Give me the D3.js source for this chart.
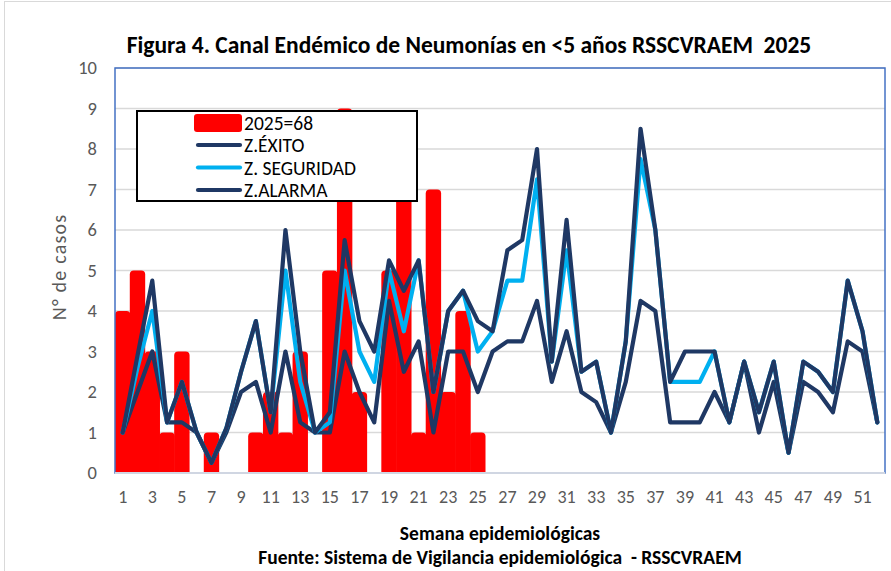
<!DOCTYPE html>
<html>
<head>
<meta charset="utf-8">
<script src="https://cdn.jsdelivr.net/npm/d3@7"></script>
<style>
  body { margin: 0; background: #fff; }
  text { font-family: Carlito, "Liberation Sans Narrow", "DejaVu Sans Condensed", sans-serif; }
</style>
</head>
<body>
<div class="canvas"></div>
<script>
// settings
const svgWidth = 891
const svgHeight = 571
const margin = {top: 68, bottom: 98, left: 115, right: 6}

// data
const semanas = d3.range(1, 53)
const tickSemanas = semanas.filter(d => d % 2 === 1)
const casos2025 = [4, 5, 3, 1, 3, 0, 1, 0, 0, 1, 2, 1, 3, 0, 5, 9, 2, 0, 5, 8, 1, 7, 2, 4, 1]
const zExito = [1, 2, 3, 1.25, 1.25, 1, 0.25, 1, 2, 2.25, 1, 3, 1.25, 1, 1, 3, 2, 1.25, 4.25, 2.5,
    3.25, 1, 3, 3, 2, 3, 3.25, 3.25, 4.25, 2.25, 3.5, 2, 1.75, 1, 2.25, 4.25, 4, 1.25, 1.25, 1.25,
    2, 1.25, 2.75, 1, 2.25, 0.5, 2.25, 2, 1.5, 3.25, 3, 1.25]
const zSeguridad = [1, 2.6, 4, 1.25, 2.25, 1, 0.25, 1.1, 2.5, 3.75, 1.5, 5, 2.25, 1, 1.25, 5, 3, 2.25, 5, 3.5,
    5.25, 2, 4, 4.5, 3, 3.5, 4.75, 4.75, 7.25, 2.75, 5.5, 2.5, 2.75, 1, 3.25, 7.75, 6, 2.25, 2.25, 2.25,
    3, 1.25, 2.75, 1.5, 2.75, 0.5, 2.75, 2.5, 2, 4.75, 3.5, 1.25]
const zAlarma = [1, 2.9, 4.75, 1.25, 2.25, 1, 0.25, 1.1, 2.5, 3.75, 1.5, 6, 3, 1, 1.5, 5.75, 3.75, 3, 5.25, 4.5,
    5.25, 2, 4, 4.5, 3.75, 3.5, 5.5, 5.75, 8, 2.75, 6.25, 2.5, 2.75, 1, 3.25, 8.5, 6, 2.25, 3, 3,
    3, 1.25, 2.75, 1.5, 2.75, 0.5, 2.75, 2.5, 2, 4.75, 3.5, 1.25]
const yTicks = d3.range(0, 11)

const navy = "#1f3864"
const lightBlue = "#00b0f0"
const grey = "#595959"

const svg = d3.select(".canvas")
    .append("svg")
    .attr("width", svgWidth)
    .attr("height", svgHeight)

// chart area border
svg.append("rect")
    .attr("x", 4.5).attr("y", 1.5)
    .attr("width", 1000).attr("height", 1000)
    .attr("fill", "none")
    .attr("stroke", "#d9d9d9")

const x = d3.scaleBand()
    .domain(semanas)
    .range([margin.left, svgWidth - margin.right])
    .paddingInner(0)
    .paddingOuter(0.02)

const y = d3.scaleLinear()
    .domain([0, 10])
    .range([svgHeight - margin.bottom, margin.top])

// gridlines
svg.append("g")
    .selectAll("line")
    .data(yTicks.slice(1))
    .enter()
    .append("line")
        .attr("x1", margin.left)
        .attr("x2", svgWidth - margin.right)
        .attr("y1", d => y(d))
        .attr("y2", d => y(d))
        .attr("stroke", "#d9d9d9")
        .attr("stroke-width", 1.5)

// y axis labels
const yAxis = d3.axisLeft(y).tickValues(yTicks).tickSize(0).tickPadding(18)
svg.append("g")
    .attr("transform", `translate(${margin.left}, 0)`)
    .call(yAxis)
    .call(g => g.select(".domain").remove())
    .selectAll("text")
        .attr("fill", grey)
        .style("font-size", "18.5px")

// x axis labels
const xAxis = d3.axisBottom(x).tickValues(tickSemanas).tickSize(0).tickPadding(17)
svg.append("g")
    .attr("transform", `translate(0, ${y(0)})`)
    .call(xAxis)
    .call(g => g.select(".domain").remove())
    .selectAll("text")
        .attr("fill", grey)
        .style("font-size", "18px")

// bars (slight overlap so neighbouring bars merge like the original)
svg.append("g")
    .selectAll("path")
    .data(casos2025.map((v, i) => ({sem: semanas[i], v: v})).filter(d => d.v > 0))
    .enter()
    .append("path")
        .attr("fill", "#ff0000")
        .attr("d", d => {
            const x0 = x(d.sem) - 0.3, w = x.bandwidth() + 0.6, y0 = y(d.v), y1 = y(0), r = 4
            return `M${x0},${y1}V${y0 + r}Q${x0},${y0} ${x0 + r},${y0}H${x0 + w - r}Q${x0 + w},${y0} ${x0 + w},${y0 + r}V${y1}Z`
        })

// plot area border
svg.append("rect")
    .attr("x", margin.left)
    .attr("y", margin.top)
    .attr("width", svgWidth - margin.right - margin.left)
    .attr("height", y(0) - margin.top)
    .attr("fill", "none")
    .attr("stroke", "#4472c4")
    .attr("stroke-width", 1.5)

svg.append("line")
    .attr("x1", margin.left).attr("x2", svgWidth - margin.right)
    .attr("y1", y(0)).attr("y2", y(0))
    .attr("stroke", "#d0d6e2")
    .attr("stroke-width", 2)

// lines
const line = d3.line()
    .x((d, i) => x(semanas[i]) + x.bandwidth() / 2)
    .y(d => y(d))

const series = [
    {name: "Z.ÉXITO", values: zExito, color: navy},
    {name: "Z. SEGURIDAD", values: zSeguridad, color: lightBlue},
    {name: "Z.ALARMA", values: zAlarma, color: navy}
]

svg.append("g")
    .selectAll("path")
    .data(series)
    .enter()
    .append("path")
        .attr("d", d => line(d.values))
        .attr("fill", "none")
        .attr("stroke", d => d.color)
        .attr("stroke-width", 4.2)
        .attr("stroke-linejoin", "round")
        .attr("stroke-linecap", "round")

// legend
const legend = svg.append("g")
legend.append("rect")
    .attr("x", 137).attr("y", 111)
    .attr("width", 280).attr("height", 90)
    .attr("fill", "#fff")
    .attr("stroke", "#000")
    .attr("stroke-width", 2)

legend.append("rect")
    .attr("x", 194).attr("y", 114)
    .attr("width", 48).attr("height", 18)
    .attr("rx", 3)
    .attr("fill", "#ff0000")
legend.append("text")
    .attr("x", 244).attr("y", 130)
    .style("font-size", "19.5px")
    .text("2025=68")

series.forEach((s, i) => {
    const ly = 145 + i * 22.5
    legend.append("line")
        .attr("x1", 198).attr("x2", 240)
        .attr("y1", ly).attr("y2", ly)
        .attr("stroke", s.color)
        .attr("stroke-width", 4.2)
        .attr("stroke-linecap", "round")
    legend.append("text")
        .attr("x", 244).attr("y", ly + 7)
        .style("font-size", "19.5px")
        .text(s.name)
})

// titles
svg.append("text")
    .attr("x", 469).attr("y", 53)
    .attr("text-anchor", "middle")
    .style("font-size", "23.5px")
    .style("font-weight", "bold")
    .style("white-space", "pre")
    .text("Figura 4. Canal Endémico de Neumonías en <5 años RSSCVRAEM  2025")

svg.append("text")
    .attr("transform", "translate(66, 267) rotate(-90)")
    .attr("text-anchor", "middle")
    .attr("fill", grey)
    .style("font-size", "20px")
    .style("letter-spacing", "1.2px")
    .text("N° de casos")

svg.append("text")
    .attr("x", 500).attr("y", 540)
    .attr("text-anchor", "middle")
    .style("font-size", "19.5px")
    .style("font-weight", "bold")
    .text("Semana epidemiológicas")

svg.append("text")
    .attr("x", 500).attr("y", 564)
    .attr("text-anchor", "middle")
    .style("font-size", "19.5px")
    .style("font-weight", "bold")
    .style("white-space", "pre")
    .text("Fuente: Sistema de Vigilancia epidemiológica  - RSSCVRAEM")
</script>
</body>
</html>
